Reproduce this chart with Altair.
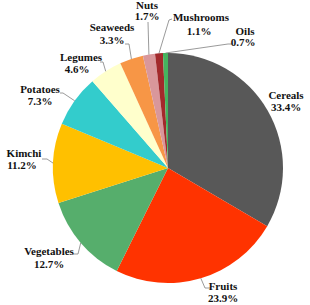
import math
import altair as alt
import pandas as pd

# ---- data ----
categories = ["Cereals", "Fruits", "Vegetables", "Kimchi", "Potatoes",
              "Legumes", "Seaweeds", "Nuts", "Mushrooms", "Oils"]
values = [33.4, 23.9, 12.7, 11.2, 7.3, 4.6, 3.3, 1.7, 1.1, 0.7]
pct_labels = ["33.4%", "23.9%", "12.7%", "11.2%", "7.3%",
              "4.6%", "3.3%", "1.7%", "1.1%", "0.7%"]
colors = ["#585858", "#FF3300", "#56AE6C", "#FFC000", "#33CCCC",
          "#FFFFCC", "#F79646", "#D9979B", "#A3292B", "#45B45E"]

# ---- layout (pixel placement of labels / leader elbows) ----
CX, CY, R = 168, 168, 115
# label block: (x of name, y of name, x of pct, y of pct)
label_pos = {
    "Cereals":    (286, 96, 286, 108),
    "Fruits":     (223, 287, 223, 299),
    "Vegetables": (49, 252, 49, 265),
    "Kimchi":     (24, 154, 22, 166),
    "Potatoes":   (40, 90, 40, 102),
    "Legumes":    (81, 58, 77, 70),
    "Seaweeds":   (112, 28, 112, 41),
    "Nuts":       (147, 6, 147, 17),
    "Mushrooms":  (201, 18, 199, 32),
    "Oils":       (245, 32, 243, 43),
}
# leader: list of points from elbow to the end near the label (edge point is computed)
leader_pts = {
    "Fruits":     [(205, 288), (210, 288)],
    "Vegetables": [(78, 254), (73, 254)],
    "Kimchi":     [(47, 159), (42, 159)],
    "Potatoes":   [(63, 93), (60, 93)],
    "Legumes":    [(103, 62), (100, 62)],
    "Seaweeds":   [(129, 44), (125, 44)],
    "Nuts":       [(148, 22)],
    "Mushrooms":  [(169, 20), (172, 19)],
    "Oils":       [(228, 44), (232, 44)],
}

total = sum(values)
df = pd.DataFrame({"cat": categories, "value": values, "idx": range(len(values))})

# leader line points
rows = []
cum = 0.0
for c, v in zip(categories, values):
    mid = (cum + v / 2) / total * 2 * math.pi
    cum += v
    if c not in leader_pts:
        continue
    ex = CX + R * math.sin(mid)
    ey = CY - R * math.cos(mid)
    pts = [(ex, ey)] + leader_pts[c]
    for k, (px, py) in enumerate(pts):
        rows.append({"cat": c, "k": k, "px": px, "py": py})
lead_df = pd.DataFrame(rows)

trows = []
for c, p in zip(categories, pct_labels):
    nx, ny, qx, qy = label_pos[c]
    trows.append({"t": c, "tx": nx, "ty": ny})
    trows.append({"t": p, "tx": qx, "ty": qy})
text_df = pd.DataFrame(trows)

pie = alt.Chart(df).mark_arc(outerRadius=R).encode(
    theta=alt.Theta("value:Q", stack=True),
    color=alt.Color("cat:N", scale=alt.Scale(domain=categories, range=colors), legend=None),
    order=alt.Order("idx:Q"),
    x=alt.value(CX),
    y=alt.value(CY),
)

leaders = alt.Chart(lead_df).mark_line(color="#808080", strokeWidth=0.8).encode(
    x=alt.X("px:Q", scale=None, axis=None),
    y=alt.Y("py:Q", scale=None, axis=None),
    detail="cat:N",
    order="k:Q",
)

texts = alt.Chart(text_df).mark_text(
    font="Liberation Serif", fontWeight="bold", fontSize=11,
    color="#111111", align="center", baseline="middle",
).encode(
    x=alt.X("tx:Q", scale=None, axis=None),
    y=alt.Y("ty:Q", scale=None, axis=None),
    text="t:N",
)

chart = alt.layer(pie, leaders, texts).properties(
    width=310, height=305, padding=0, autosize="none", background="white"
).configure_view(stroke=None)

chart.save("out.html", embed_options={"renderer": "svg", "actions": False})
